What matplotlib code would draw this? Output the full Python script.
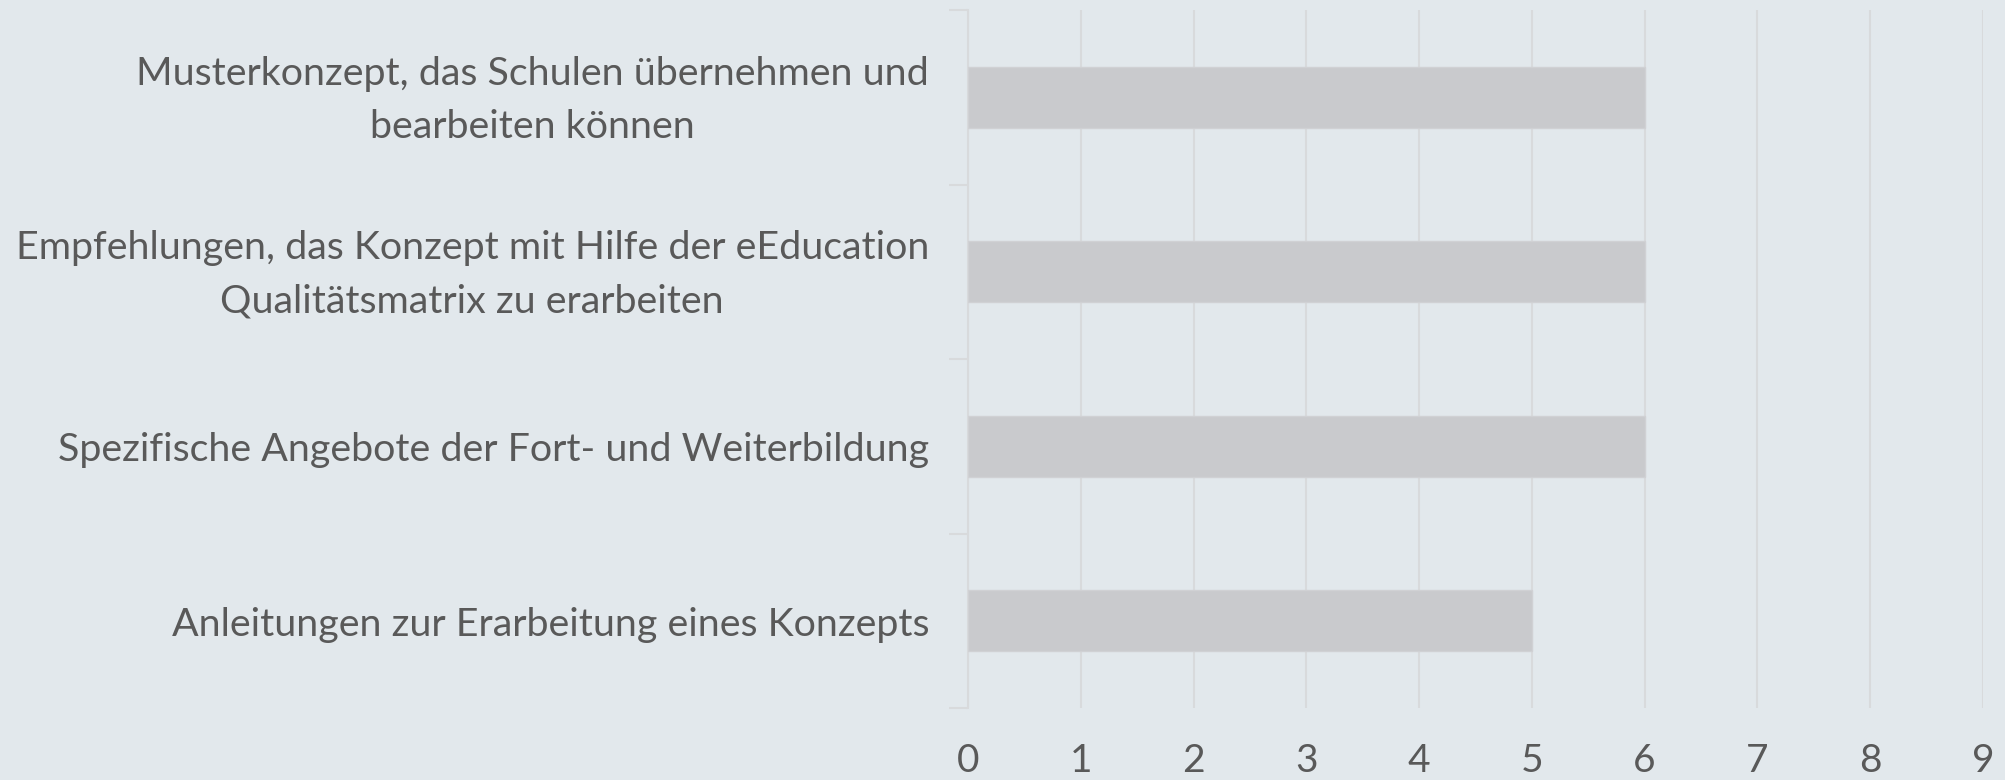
import matplotlib
matplotlib.use("Agg")
import matplotlib.pyplot as plt
import matplotlib.transforms as mtransforms
import numpy as np

categories = [
    "Musterkonzept, das Schulen übernehmen und\nbearbeiten können",
    "Empfehlungen, das Konzept mit Hilfe der eEducation\nQualitätsmatrix zu erarbeiten",
    "Spezifische Angebote der Fort- und Weiterbildung",
    "Anleitungen zur Erarbeitung eines Konzepts",
]
values = [6, 6, 6, 5]
xticks = [0, 1, 2, 3, 4, 5, 6, 7, 8, 9]

BG = "#e2e8ec"
BAR = "#c9cacd"
GRID = "#d8dadc"
TXT = "#595959"

plt.rcParams['font.family'] = ['Lato', 'DejaVu Sans']

W, H = 2005, 780
fig = plt.figure(figsize=(W / 100, H / 100), dpi=100, facecolor=BG)
ax = fig.add_axes([968 / W, 1 - 708 / H, (1983 - 968) / W, (708 - 10) / H])
ax.set_facecolor(BG)

y = np.arange(len(categories))
ax.barh(y, values, height=0.35, color=BAR, edgecolor="#d0d1d4", linewidth=1.0, zorder=3)

ax.set_xlim(0, 9)
ax.set_ylim(len(categories) - 0.5, -0.5)
ax.set_xticks(xticks)
ax.set_xticklabels([str(v) for v in xticks])
ax.grid(axis='x', color=GRID, linewidth=1.5, zorder=0)
ax.tick_params(axis='x', length=0, pad=25, labelsize=28, labelcolor=TXT)

ax.set_yticks(y)
ax.set_yticklabels([""] * len(categories))
ax.set_yticks(np.arange(-0.5, len(categories), 1.0), minor=True)
ax.tick_params(axis='y', which='major', length=0)
ax.tick_params(axis='y', which='minor', length=14, width=1.5, color=GRID)

base = ax.get_yaxis_transform()
for yi, lab in zip(y, categories):
    dy = -3 if "\n" in lab else -4
    tr = base + mtransforms.ScaledTranslation(-39 / 100, dy / 100, fig.dpi_scale_trans)
    ax.text(0, yi, lab, transform=tr, ha='right', va='center', multialignment='center',
            linespacing=1.6, fontsize=28.4, color=TXT)

for s in ['top', 'right', 'bottom']:
    ax.spines[s].set_visible(False)
ax.spines['left'].set_color(GRID)
ax.spines['left'].set_linewidth(1.5)

fig.savefig("out.png", dpi=100, facecolor=BG)
